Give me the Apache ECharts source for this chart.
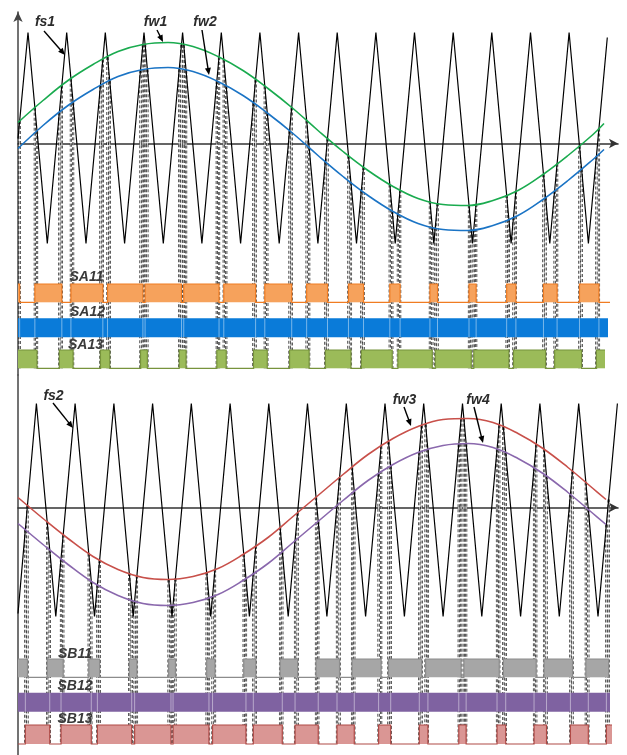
<!DOCTYPE html>
<html><head><meta charset="utf-8">
<script src="https://cdn.jsdelivr.net/npm/echarts@6/dist/echarts.min.js"></script>
<style>html,body{margin:0;padding:0;background:#fff}#c{width:627px;height:755px}</style>
</head><body><div id="c"></div>
<script>
// ---------------- DATA (x: time units, 0 = vertical axis; y: signal units, 0 = horizontal axis of panel) ----------------
// Upper panel: carrier fs1 vertices
const carrierTopX = [0, 10, 29.3, 48.7, 68, 87.3, 106.6, 126, 145.3, 164.6, 183.9, 203.3, 222.6, 241.9, 261.2, 280.6, 299.9, 319.2, 338.5, 357.9, 377.2, 396.5, 415.8, 435.2, 454.5, 473.8, 493.1, 512.5, 531.8, 551.1, 570.4, 589.3];
const carrierTopY = [5, 111, -100, 111, -100, 111, -100, 111, -100, 111, -100, 111, -100, 111, -100, 111, -100, 111, -100, 111, -100, 111, -100, 111, -100, 111, -100, 111, -100, 111, -100, 106];
// Upper panel: modulating waves fw1, fw2
const sineTopX = [0, 25, 50, 75, 100, 125, 150, 175, 200, 225, 250, 275, 300, 325, 350, 375, 400, 425, 450, 475, 500, 525, 550, 575, 586];
const fw1 = [21, 43, 63, 79, 92, 99, 101, 97, 87, 73, 55, 35, 13, -8, -27, -43, -55, -61, -62, -57, -47, -31, -12, 9, 20];
const fw2 = [-5, 18, 38, 54, 67, 74, 76, 72, 62, 48, 30, 10, -12, -33, -52, -68, -80, -86, -87, -82, -72, -56, -37, -16, -6];
// Lower panel: carrier fs2 vertices
const carrierBotX = [0, 18.4, 37.8, 57.1, 76.5, 95.9, 115.2, 134.6, 154, 173.3, 192.7, 212.1, 231.4, 250.8, 270.2, 289.5, 308.9, 328.3, 347.6, 367, 386.4, 405.7, 425.1, 444.5, 463.8, 483.2, 502.6, 521.9, 541.3, 560.7, 580, 599.4];
const carrierBotY = [-106, 104, -109, 104, -109, 104, -109, 104, -109, 104, -109, 104, -109, 104, -109, 104, -109, 104, -109, 104, -109, 104, -109, 104, -109, 104, -109, 104, -109, 104, -109, 104];
// Lower panel: modulating waves fw3, fw4
const sineBotX = [0, 25, 50, 75, 100, 125, 150, 175, 200, 225, 250, 275, 300, 325, 350, 375, 400, 425, 450, 475, 500, 525, 550, 575, 588];
const fw3 = [10, -11, -31, -49, -62, -70, -72, -69, -61, -47, -30, -9, 12, 33, 53, 69, 81, 88, 89, 85, 74, 59, 40, 19, 8];
const fw4 = [-16, -37, -57, -75, -88, -96, -98, -95, -87, -73, -56, -35, -14, 7, 27, 43, 55, 62, 64, 60, 49, 34, 15, -6, -17];
// Text labels
const labelsTop = ['fs1', 'fw1', 'fw2', 'SA11', 'SA12', 'SA13'];
const labelsBot = ['fs2', 'fw3', 'fw4', 'SB11', 'SB12', 'SB13'];

// ---------------- LAYOUT / STYLE ----------------
const L = {
  xMax: 600,
  top: { grid: { left: 18, top: 12, width: 600, height: 363 }, yMin: -231.5, yMax: 131.5 },
  bot: { grid: { left: 18, top: 375, width: 600, height: 380 }, yMin: -247.5, yMax: 132.5 },
  rowsTop: { r1: [-158.8, -140.5, 592], r2: [-193.8, -174.8, 590], r3: [-224.8, -206.5, 587] },
  rowsBot: { r1: [-169.8, -151.5, 592], r2: [-204.2, -185.2, 592], r3: [-236.5, -217.5, 594] },
  labelPosTop: [[27, 121.5], [137.5, 121.5], [187, 121.5], [68.5, -133.5], [69.5, -168.5], [67.5, -201.5]],
  arrowsTop: [[[26, 112.5], [47, 88.5]], [[139, 113.5], [145, 101.5]], [[184, 113.5], [191, 68.5]], null, null, null],
  labelPosBot: [[35.5, 111.5], [386.5, 107.5], [460, 107.5], [57, -146.5], [57, -178.5], [57, -211.5]],
  arrowsBot: [[[35, 104.5], [55, 79.5]], [[386, 100.5], [393, 81.5]], [[456, 100.5], [465, 64.5]], null, null, null]
};
const C = {
  fw1: '#1aab4f', fw2: '#1b74c5', fw3: '#c8504a', fw4: '#8a68ad',
  sa11: ['#f6a25c', '#f07c22'], sa12: '#0a7bd9', sa13: ['#9bbb59', '#77933c'],
  sb11: ['#a6a6a6', '#8c8c8c'], sb12: '#7f62a1', sb13: ['#da9694', '#b04a46']
};

// ---------------- helpers ----------------
function interp(xs, ys, x) {
  if (x <= xs[0]) return ys[0];
  for (let i = 1; i < xs.length; i++) {
    if (x <= xs[i]) { const t = (x - xs[i - 1]) / (xs[i] - xs[i - 1]); return ys[i - 1] + t * (ys[i] - ys[i - 1]); }
  }
  return ys[ys.length - 1];
}
// state = sign*(sine - carrier) > 0
function pulseEdges(sx, sy, cx, cy, sign, xEnd) {
  const step = 0.05;
  let prev = sign * (interp(sx, sy, 0) - interp(cx, cy, 0));
  const start = prev > 0, edges = [];
  for (let x = step; x <= xEnd + 1e-9; x += step) {
    const d = sign * (interp(sx, sy, x) - interp(cx, cy, x));
    if ((d > 0) !== (prev > 0)) {
      const xc = x - step * d / (d - prev);
      edges.push({ x: xc, y: interp(cx, cy, xc) });
    }
    prev = d;
  }
  return { start, edges };
}
function segments(res, xEnd) {
  const segs = []; let x0 = 0, high = res.start;
  res.edges.forEach(e => { if (e.x < xEnd) { segs.push({ x0, x1: e.x, high }); x0 = e.x; high = !high; } });
  segs.push({ x0, x1: xEnd, high });
  return segs;
}
function pulseSeries(gi, res, row, col) {
  const [lo, hi, xEnd] = row;
  return {
    type: 'custom', xAxisIndex: gi, yAxisIndex: gi, z: 3, silent: true, data: [[0, 0]],
    renderItem(params, api) {
      const children = [], pts = [];
      segments(res, xEnd).forEach(s => {
        const y = s.high ? hi : lo;
        if (s.high) {
          const a = api.coord([s.x0, hi]), b = api.coord([s.x1, lo]);
          children.push({ type: 'rect', shape: { x: a[0], y: a[1], width: b[0] - a[0], height: b[1] - a[1] }, style: { fill: col[0] } });
        }
        pts.push(api.coord([s.x0, y]), api.coord([s.x1, y]));
      });
      children.push({ type: 'polyline', shape: { points: pts }, style: { stroke: col[1], lineWidth: 1.2, fill: null } });
      return { type: 'group', children };
    }
  };
}
function barSeries(gi, refRes, row, col) {
  const [lo, hi, xEnd] = row;
  return {
    type: 'custom', xAxisIndex: gi, yAxisIndex: gi, z: 3, silent: true, data: [[0, 0]],
    renderItem(params, api) {
      const a = api.coord([0, hi]), b = api.coord([xEnd, lo]);
      const children = [{ type: 'rect', shape: { x: a[0], y: a[1], width: b[0] - a[0], height: b[1] - a[1] }, style: { fill: col } }];
      refRes.edges.forEach(e => {
        if (e.x < xEnd) {
          const p = api.coord([e.x, hi]), q = api.coord([e.x, lo]);
          children.push({ type: 'line', shape: { x1: p[0], y1: p[1], x2: q[0], y2: q[1] }, style: { stroke: 'rgba(255,255,255,0.45)', lineWidth: 1 } });
        }
      });
      return { type: 'group', children };
    }
  };
}
function dashSeries(gi, edges, yBottom) {
  return {
    type: 'custom', xAxisIndex: gi, yAxisIndex: gi, z: 2, silent: true,
    data: edges.map(e => [e.x, e.y]),
    renderItem(params, api) {
      const p = api.coord([api.value(0), api.value(1)]), q = api.coord([api.value(0), yBottom]);
      return { type: 'group', children: [
        { type: 'line', shape: { x1: p[0], y1: p[1], x2: q[0], y2: q[1] }, style: { stroke: '#111', lineWidth: 2.2, lineDash: [3, 2] } },
        { type: 'line', shape: { x1: p[0], y1: p[1], x2: q[0], y2: q[1] }, style: { stroke: '#fff', lineWidth: 0.8 } }
      ] };
    }
  };
}
function labelSeries(gi, texts, pos, arrows) {
  return {
    type: 'custom', xAxisIndex: gi, yAxisIndex: gi, z: 10, silent: true,
    data: texts.map((t, i) => [pos[i][0], pos[i][1]]),
    renderItem(params, api) {
      const i = params.dataIndex;
      const c = api.coord(pos[i]);
      const children = [{ type: 'text', x: c[0], y: c[1], style: { text: texts[i], fill: i < 3 ? '#2b2b2b' : '#3a3a3a', font: 'italic bold 14px "Liberation Sans", Arial, sans-serif', align: 'center', verticalAlign: 'middle' } }];
      const ar = arrows[i];
      if (ar) {
        const p0 = api.coord(ar[0]), p1 = api.coord(ar[1]);
        const dx = p1[0] - p0[0], dy = p1[1] - p0[1], len = Math.hypot(dx, dy), ux = dx / len, uy = dy / len;
        const hl = 7, hw = 3;
        children.push({ type: 'line', shape: { x1: p0[0], y1: p0[1], x2: p1[0] - ux * 4, y2: p1[1] - uy * 4 }, style: { stroke: '#000', lineWidth: 1.4 } });
        children.push({ type: 'polygon', shape: { points: [[p1[0], p1[1]], [p1[0] - ux * hl - uy * hw, p1[1] - uy * hl + ux * hw], [p1[0] - ux * hl + uy * hw, p1[1] - uy * hl - ux * hw]] }, style: { fill: '#000' } });
      }
      return { type: 'group', children };
    }
  };
}
function lineSeries(gi, xs, ys, color, width, smooth, z) {
  return { type: 'line', xAxisIndex: gi, yAxisIndex: gi, data: xs.map((x, i) => [x, ys[i]]), showSymbol: false, smooth, z, silent: true, lineStyle: { color, width } };
}

// ---------------- compute PWM states ----------------
const sa11 = pulseEdges(sineTopX, fw1, carrierTopX, carrierTopY, 1, L.rowsTop.r1[2]);
const sa13 = pulseEdges(sineTopX, fw2, carrierTopX, carrierTopY, -1, L.rowsTop.r3[2]);
const sb11 = pulseEdges(sineBotX, fw3, carrierBotX, carrierBotY, 1, L.rowsBot.r1[2]);
const sb13 = pulseEdges(sineBotX, fw4, carrierBotX, carrierBotY, -1, L.rowsBot.r3[2]);

const axisX = gi => ({ gridIndex: gi, type: 'value', min: 0, max: L.xMax, axisLine: { show: true, onZero: true, symbol: ['none', 'arrow'], symbolSize: [7, 9], lineStyle: { color: '#333', width: 1.6 } }, axisTick: { show: false }, axisLabel: { show: false }, splitLine: { show: false } });
const axisY = (gi, p, arrow) => ({ gridIndex: gi, type: 'value', min: p.yMin, max: p.yMax, axisLine: { show: true, onZero: true, symbol: arrow ? ['none', 'arrow'] : 'none', symbolSize: [7, 10], lineStyle: { color: '#444', width: 1.5 } }, axisTick: { show: false }, axisLabel: { show: false }, splitLine: { show: false } });

const option = {
  animation: false,
  backgroundColor: '#fff',
  grid: [L.top.grid, L.bot.grid],
  xAxis: [axisX(0), axisX(1)],
  yAxis: [axisY(0, L.top, true), axisY(1, L.bot, false)],
  series: [
    dashSeries(0, sa11.edges.concat(sa13.edges), L.rowsTop.r3[0]),
    dashSeries(1, sb11.edges.concat(sb13.edges), L.rowsBot.r3[0]),
    pulseSeries(0, sa11, L.rowsTop.r1, C.sa11),
    barSeries(0, sa11, L.rowsTop.r2, C.sa12),
    pulseSeries(0, sa13, L.rowsTop.r3, C.sa13),
    pulseSeries(1, sb11, L.rowsBot.r1, C.sb11),
    barSeries(1, sb13, L.rowsBot.r2, C.sb12),
    pulseSeries(1, sb13, L.rowsBot.r3, C.sb13),
    lineSeries(0, carrierTopX, carrierTopY, '#000', 1.2, false, 5),
    lineSeries(1, carrierBotX, carrierBotY, '#000', 1.2, false, 5),
    lineSeries(0, sineTopX, fw1, C.fw1, 1.6, 0.4, 6),
    lineSeries(0, sineTopX, fw2, C.fw2, 1.6, 0.4, 6),
    lineSeries(1, sineBotX, fw3, C.fw3, 1.6, 0.4, 6),
    lineSeries(1, sineBotX, fw4, C.fw4, 1.6, 0.4, 6),
    labelSeries(0, labelsTop, L.labelPosTop, L.arrowsTop),
    labelSeries(1, labelsBot, L.labelPosBot, L.arrowsBot)
  ]
};
const chart = echarts.init(document.getElementById('c'), null, { renderer: 'canvas' });
chart.setOption(option);
</script>
</body></html>
